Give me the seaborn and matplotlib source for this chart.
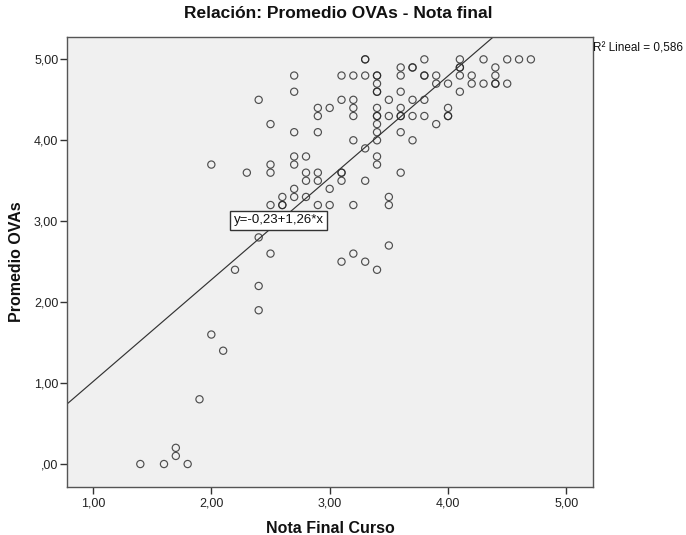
import matplotlib
matplotlib.use("Agg")
import matplotlib.pyplot as plt
import seaborn as sns
import pandas as pd
from matplotlib import font_manager as fm
from matplotlib.ticker import FixedLocator, FixedFormatter

# ---------------- data ----------------
nota_final = [
    # low group
    1.4, 1.6, 1.7, 1.7, 1.8, 1.9, 2.0, 2.1, 2.2, 2.4, 2.4, 2.4, 2.5, 3.1, 3.2, 3.3, 3.4, 3.5,
    # 3.2 - 3.6
    2.5, 2.6, 2.6, 2.6, 2.7, 2.7, 2.8, 2.8, 2.8, 2.9, 2.9, 2.9, 3.0, 3.0, 3.1, 3.1, 3.1, 3.2, 3.3, 3.5, 3.5, 3.6,
    # 3.6 - 4.2
    2.0, 2.3, 2.5, 2.5, 2.7, 2.7, 2.8, 3.4, 3.4, 3.3, 3.2, 3.4, 3.7, 2.7, 2.9, 3.4, 3.6, 2.5, 3.4, 3.9,
    # 4.3
    2.9, 3.2, 3.4, 3.4, 3.5, 3.6, 3.6, 3.7, 3.8, 4.0, 4.0,
    # 4.4
    2.9, 3.0, 3.2, 3.4, 3.6, 4.0,
    # 4.5
    2.4, 3.1, 3.2, 3.5, 3.7, 3.8,
    # 4.6
    2.7, 3.4, 3.4, 3.6, 4.1,
    # 4.7
    3.4, 3.9, 4.0, 4.2, 4.3, 4.4, 4.4, 4.5,
    # 4.8
    2.7, 3.1, 3.2, 3.3, 3.4, 3.4, 3.6, 3.8, 3.8, 3.9, 4.1, 4.2, 4.4,
    # 4.9
    3.6, 3.7, 3.7, 4.1, 4.1, 4.4,
    # 5.0
    3.3, 3.3, 3.8, 4.1, 4.3, 4.5, 4.6, 4.7,
]
promedio_ovas = [
    0.0, 0.0, 0.1, 0.2, 0.0, 0.8, 1.6, 1.4, 2.4, 2.2, 1.9, 2.8, 2.6, 2.5, 2.6, 2.5, 2.4, 2.7,
    3.2, 3.2, 3.2, 3.3, 3.3, 3.4, 3.3, 3.5, 3.6, 3.5, 3.6, 3.2, 3.2, 3.4, 3.5, 3.6, 3.6, 3.2, 3.5, 3.3, 3.2, 3.6,
    3.7, 3.6, 3.7, 3.6, 3.7, 3.8, 3.8, 3.8, 3.7, 3.9, 4.0, 4.0, 4.0, 4.1, 4.1, 4.1, 4.1, 4.2, 4.2, 4.2,
    4.3, 4.3, 4.3, 4.3, 4.3, 4.3, 4.3, 4.3, 4.3, 4.3, 4.3,
    4.4, 4.4, 4.4, 4.4, 4.4, 4.4,
    4.5, 4.5, 4.5, 4.5, 4.5, 4.5,
    4.6, 4.6, 4.6, 4.6, 4.6,
    4.7, 4.7, 4.7, 4.7, 4.7, 4.7, 4.7, 4.7,
    4.8, 4.8, 4.8, 4.8, 4.8, 4.8, 4.8, 4.8, 4.8, 4.8, 4.8, 4.8, 4.8,
    4.9, 4.9, 4.9, 4.9, 4.9, 4.9,
    5.0, 5.0, 5.0, 5.0, 5.0, 5.0, 5.0, 5.0,
]

x_ticks = [1, 2, 3, 4, 5]
x_tick_labels = ["1,00", "2,00", "3,00", "4,00", "5,00"]
y_ticks = [0, 1, 2, 3, 4, 5]
y_tick_labels = [",00", "1,00", "2,00", "3,00", "4,00", "5,00"]

title_text = "Relación: Promedio OVAs - Nota final"
x_label = "Nota Final Curso"
y_label = "Promedio OVAs"
equation_text = "y=-0,23+1,26*x"
r2_text = "R\u00b2 Lineal = 0,586"

df = pd.DataFrame({"Nota Final Curso": nota_final, "Promedio OVAs": promedio_ovas})

# ---------------- style ----------------
sns.set_theme(style="white")
names = {f.name for f in fm.fontManager.ttflist}
base = "Liberation Sans" if "Liberation Sans" in names else "DejaVu Sans"
plt.rcParams["font.family"] = [base, "DejaVu Sans"]

fig = plt.figure(figsize=(6.86, 5.35), dpi=100)
ax = fig.add_axes([0.0981, 0.0903, 0.766, 0.8411])
ax.set_facecolor("#F0F0F0")
ax.set_xlim(0.783, 5.223)
ax.set_ylim(-0.28, 5.28)

sns.scatterplot(data=df, x="Nota Final Curso", y="Promedio OVAs", ax=ax,
                marker="o", s=27, linewidth=0.85, legend=False)
coll = ax.collections[0]
coll.set_facecolor("none")
coll.set_edgecolor((0.15, 0.15, 0.15, 0.8))
coll.set_linewidth(0.85)

sns.regplot(data=df, x="Nota Final Curso", y="Promedio OVAs", ax=ax,
            scatter=False, ci=None, truncate=False,
            line_kws=dict(color="#333333", lw=0.85))

ax.set_xlim(0.783, 5.223)
ax.set_ylim(-0.28, 5.28)

ax.xaxis.set_major_locator(FixedLocator(x_ticks))
ax.xaxis.set_major_formatter(FixedFormatter(x_tick_labels))
ax.yaxis.set_major_locator(FixedLocator(y_ticks))
ax.yaxis.set_major_formatter(FixedFormatter(y_tick_labels))
ax.tick_params(axis="both", which="major", direction="out", length=5, width=1,
               color="#333333", labelsize=9, labelcolor="#222222",
               bottom=True, left=True, top=False, right=False)
ax.tick_params(axis="x", pad=3)
ax.tick_params(axis="y", pad=1.5)

for sp in ax.spines.values():
    sp.set_visible(True)
    sp.set_color("#555555")
    sp.set_linewidth(1.0)

ax.set_xlabel(x_label, fontsize=11.5, fontweight="bold", color="#111111")
ax.xaxis.set_label_coords(0.5, -0.092)
ax.xaxis.label.set_va("center")
ax.set_ylabel(y_label, fontsize=11.5, fontweight="bold", color="#111111")
ax.yaxis.set_label_coords(-0.0976, 0.5)
ax.yaxis.label.set_va("center")

fig.text(0.493, 0.974, title_text, ha="center", va="center",
         fontsize=12.5, fontweight="bold", color="#111111")
fig.text(0.8644, 0.9097, r2_text, ha="left", va="center", fontsize=8.5, color="#111111")

ax.text(2.57, 3.01, equation_text, ha="center", va="center", fontsize=9.5, color="#111111",
        bbox=dict(boxstyle="square,pad=0.25", fc="white", ec="#333333", lw=1.0), zorder=5)

fig.savefig("out.png", dpi=100)
